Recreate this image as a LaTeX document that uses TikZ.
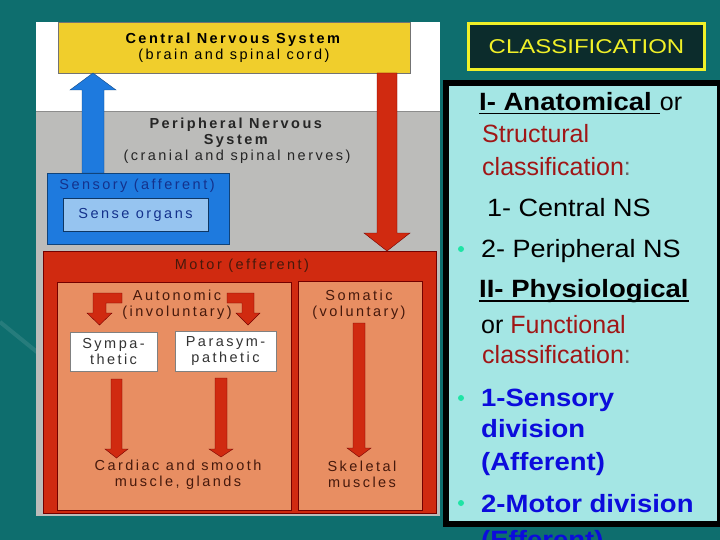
\documentclass[tikz,border=0pt]{standalone}
\usepackage{fontspec}
\setmainfont{Liberation Sans}
\newfontfamily\diagfont[LetterSpace=17]{Liberation Sans}
\usetikzlibrary{calc}
\definecolor{bgteal}{RGB}{14,110,110}
\definecolor{panelgray}{RGB}{188,188,186}
\definecolor{cnsyellow}{RGB}{240,206,44}
\definecolor{sensblue}{RGB}{30,122,222}
\definecolor{organblue}{RGB}{150,196,240}
\definecolor{sensetext}{RGB}{20,50,140}
\definecolor{motorred}{RGB}{208,42,16}
\definecolor{salmon}{RGB}{232,142,98}
\definecolor{darkbrown}{RGB}{70,25,12}
\definecolor{classyellow}{RGB}{240,240,40}
\definecolor{classbg}{RGB}{12,44,44}
\definecolor{panelcyan}{RGB}{164,230,228}
\definecolor{dred}{RGB}{160,22,22}
\definecolor{dblue}{RGB}{12,12,220}
\definecolor{bulletgreen}{RGB}{30,228,165}
\newcommand\vblockarrow[7]{%
  \filldraw[#1] (#2-#6,#3) -- (#2-#6,#4) -- (#2-#7,#4) -- (#2,#5) -- (#2+#7,#4) -- (#2+#6,#4) -- (#2+#6,#3) -- cycle;}
\begin{document}
\begin{tikzpicture}[x=1pt,y=-1pt,
  dtext/.style={font={\diagfont\fontsize{14.5}{16}\selectfont}, align=center, inner sep=0},
  boxnode/.style={inner sep=0, anchor=center},
  redarrow/.style={fill=motorred, draw=red!45!black, line width=0.4},
  bluearrow/.style={fill=sensblue, draw=sensblue!60!black, line width=0.4},
  rtext/.style={anchor=base west, inner sep=0, font=\fontsize{25}{30}\selectfont},
  bul/.style={fill=bulletgreen}]
\useasboundingbox (0,0) rectangle (720,540);
\fill[bgteal] (0,0) rectangle (720,540);
\clip (0,0) rectangle (720,540);
\draw[white, opacity=0.10, line width=4] (0,322) -- (37,352);
% left panel
\fill[white] (36,22) rectangle (440,111);
\fill[panelgray] (36,111) rectangle (440,516);
\draw[black!45, line width=0.6] (36,111) -- (440,111);
% CNS
\node[boxnode, draw=black!55, fill=cnsyellow, minimum width=352, minimum height=51, dtext] (cns) at (234,47.5)
  {\textbf{Central Nervous System}\\(brain and spinal cord)};
% arrows from/to CNS
\vblockarrow{bluearrow}{93}{173}{90}{73}{11}{23}
\vblockarrow{redarrow}{387}{73}{233}{251}{10}{23}
% PNS text
\node[dtext, text=black!85] (pns) at (237,141) {\textbf{Peripheral Nervous}\\\textbf{System}\\(cranial and spinal nerves)};
% Sensory
\node[boxnode, draw=sensblue!55!black, fill=sensblue, minimum width=182, minimum height=71] (sens) at (138,208.5) {};
\node[dtext, text=sensetext] (senslbl) at (137,186) {Sensory (afferent)};
\node[boxnode, draw=sensblue!45!black, fill=organblue, minimum width=145, minimum height=33, dtext, text=sensetext] (organs) at (135.5,214.5) {Sense organs};
% Motor
\node[boxnode, draw=red!45!black, fill=motorred, minimum width=393, minimum height=262] (motor) at (239.5,382) {};
\node[dtext, text=darkbrown] (motorlbl) at (242,266) {Motor (efferent)};
\node[boxnode, draw=red!45!black, fill=salmon, minimum width=234, minimum height=228] (auto) at (174,396) {};
\node[boxnode, draw=red!45!black, fill=salmon, minimum width=124, minimum height=229] (soma) at (360,395.5) {};
\node[dtext, text=darkbrown] (autolbl) at (177,305) {Autonomic\\(involuntary)};
\node[dtext, text=darkbrown] (somalbl) at (359,304.5) {Somatic\\(voluntary)};
% bent arrows
\filldraw[redarrow] (122,293) -- (93,293) -- (93,313) -- (87,313) -- (99.5,325) -- (112,313) -- (106,313) -- (106,303) -- (122,303) -- cycle;
\filldraw[redarrow] (227,293) -- (254,293) -- (254,313) -- (260,313) -- (248,325) -- (236,313) -- (242,313) -- (242,303) -- (227,303) -- cycle;
% sympathetic / parasympathetic
\node[boxnode, draw=black!50, fill=white, minimum width=87, minimum height=39, dtext, text=black!80] (symp) at (113.5,351.5) {Sympa-\\thetic};
\node[boxnode, draw=black!50, fill=white, minimum width=101, minimum height=40, dtext, text=black!80] (para) at (225.5,351) {Parasym-\\pathetic};
% down arrows
\vblockarrow{redarrow}{116.5}{379}{449}{458}{5.5}{11.5}
\vblockarrow{redarrow}{221}{378}{449}{457}{6}{12}
\vblockarrow{redarrow}{359}{323}{448}{457}{6}{12}
\node[dtext, text=darkbrown] (cardiac) at (178,474.5) {Cardiac and smooth\\muscle, glands};
\node[dtext, text=darkbrown] (skel) at (362,474) {Skeletal\\muscles};
% right side
\node[boxnode, draw=classyellow, line width=3, fill=classbg, minimum width=236, minimum height=46, text=classyellow] (cls) at (586.5,46.5)
  {\scalebox{1.2}[1]{\fontsize{20}{24}\selectfont CLASSIFICATION}};
\node[boxnode, draw=black, line width=6, fill=panelcyan, minimum width=274.5, minimum height=441] (panel) at (582.75,303.5) {};
\node[rtext] (l1) at (479,111) {\scalebox{1.1}[1]{\textbf{I- Anatomical }}};
\node[rtext] (l1b) at (l1.base east) {or};
\draw[line width=1.6] ($(l1.base west)+(0,2.5)$) -- ($(l1.base east)+(0,2.5)$);
\node[rtext, text=dred] (l2) at (482,143) {Structural};
\node[rtext, text=dred] (l3) at (482,176) {classification\textcolor{black!60}{:}};
\node[rtext] (l4) at (487,217) {\scalebox{1.08}[1]{1- Central NS}};
\fill[bul] (461,249) circle (3);
\node[rtext] (l5) at (481,257) {\scalebox{1.08}[1]{2- Peripheral NS}};
\node[rtext] (l6) at (479,297) {\scalebox{1.1}[1]{\textbf{II- Physiological}}};
\draw[line width=1.6] ($(l6.base west)+(0,4)$) -- ($(l6.base east)+(0,4)$);
\node[rtext] (l7) at (481,333) {or \textcolor{dred}{Functional}};
\node[rtext, text=dred] (l8) at (482,363) {classification\textcolor{black!60}{:}};
\fill[bul] (461,398) circle (3);
\node[rtext, text=dblue] (l9) at (481,406) {\scalebox{1.1}[1]{\textbf{1-Sensory}}};
\node[rtext, text=dblue] (l10) at (481,437) {\scalebox{1.1}[1]{\textbf{division}}};
\node[rtext, text=dblue] (l11) at (481,470) {\scalebox{1.1}[1]{\textbf{(Afferent)}}};
\fill[bul] (461,503) circle (3);
\node[rtext, text=dblue] (l12) at (481,512) {\scalebox{1.1}[1]{\textbf{2-Motor division}}};
\node[rtext, text=dblue] (l13) at (481,548) {\scalebox{1.1}[1]{\textbf{(Efferent)}}};
\end{tikzpicture}
\end{document}
